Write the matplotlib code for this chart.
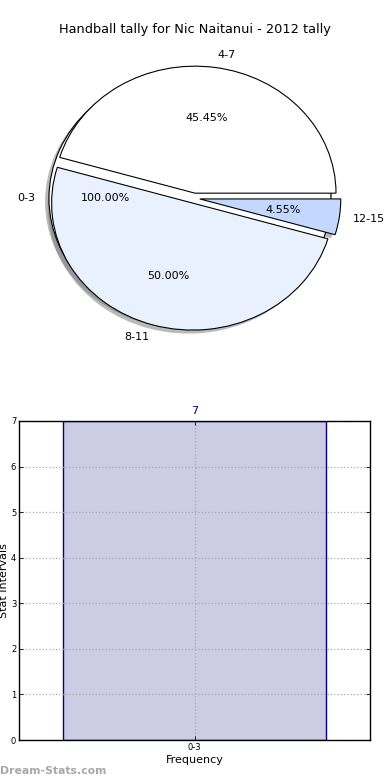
import matplotlib
matplotlib.use("Agg")
import matplotlib.pyplot as plt

# ---- data ----
title = "Handball tally for Nic Naitanui - 2012 tally"
pie_all_label = ["0-3"]
pie_all_value = [7]
pie_labels = ["4-7", "8-11", "12-15"]
pie_values = [10, 11, 1]
pie_colors = ["#FFFFFF", "#EAF1FE", "#C4D8FF"]
bar_categories = ["0-3"]
bar_values = [7]

fig = plt.figure(figsize=(3.9, 7.8), dpi=100)

# ---- pie (not equal aspect, like the original) ----
W, H = 390.0, 780.0
cx, cy = 194.2, 198.2      # pixel centre (from top)
rx, ry = 141.0, 127.0      # pixel radius
L = 1.3
axw, axh = 2 * L * rx, 2 * L * ry
ax1 = fig.add_axes([(cx - axw / 2) / W, 1 - (cy + axh / 2) / H, axw / W, axh / H])
shadow_kw = dict(ox=-0.02, oy=-0.02, facecolor="#777777", edgecolor="none", alpha=0.5)
ax1.pie(pie_all_value, labels=pie_all_label, colors=["#FFFFFF"], explode=[0.03],
        autopct="%1.2f%%", shadow=shadow_kw, startangle=0,
        wedgeprops=dict(edgecolor="black", linewidth=0.8),
        textprops=dict(fontsize=8))
ax1.pie(pie_values, labels=pie_labels, colors=pie_colors, explode=[0.04] * 3,
        autopct="%1.2f%%", shadow=shadow_kw, startangle=0,
        wedgeprops=dict(edgecolor="black", linewidth=0.8),
        textprops=dict(fontsize=8))
ax1.set_aspect("auto")
ax1.set_xlim(-L, L)
ax1.set_ylim(-L, L)
ax1.axis("off")
fig.text(195 / W, 1 - 30 / H, title, ha="center", va="center", fontsize=9.3)

# ---- bar chart ----
left, right, top, bottom = 19, 370, 421, 740
ax2 = fig.add_axes([left / W, 1 - bottom / H, (right - left) / W, (bottom - top) / H])
xs = list(range(len(bar_categories)))
bars = ax2.bar(xs, bar_values, width=0.752, color="#CCCCE4", edgecolor="#000080",
               linewidth=1.0, zorder=2)
for x, v in zip(xs, bar_values):
    ax2.text(x, v + 0.1, str(v), ha="center", va="bottom", color="#000080", fontsize=8)
ax2.set_xlim(-0.5, 0.5)
ax2.set_ylim(0, 7)
ax2.set_xticks(xs)
ax2.set_xticklabels(bar_categories)
ax2.set_yticks(range(0, 8))
ax2.tick_params(axis="both", labelsize=6, direction="in", length=3, width=0.6,
                top=True, right=True, pad=2)
ax2.grid(True, linestyle=":", color="#AAAAAA", linewidth=0.9)
ax2.set_axisbelow(False)
for s in ax2.spines.values():
    s.set_linewidth(1.0)
    s.set_zorder(5)
ax2.set_xlabel("Frequency", fontsize=8, labelpad=2)
ax2.set_ylabel("Stat Intervals", fontsize=8, labelpad=1)

fig.text(0.0, 1 - 771 / H, "Dream-Stats.com", ha="left", va="center",
         fontsize=7.8, color="#A8A8A8", fontweight="bold")

fig.savefig("out.png", dpi=100)
